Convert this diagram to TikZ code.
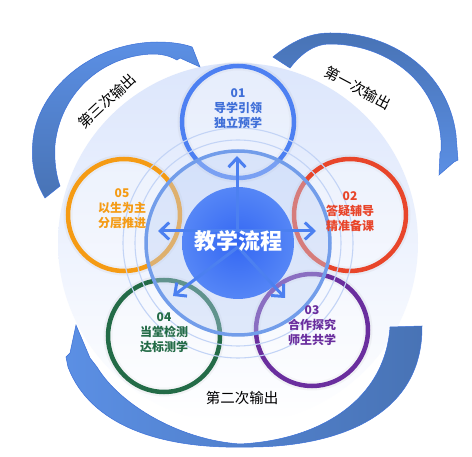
\documentclass[tikz,border=0pt]{standalone}
\usepackage{fontspec}
\setmainfont{Noto Sans CJK SC}
\usetikzlibrary{arrows.meta}
\definecolor{cA}{HTML}{4D80F2}
\definecolor{tA}{HTML}{3F6FD8}
\definecolor{cB}{HTML}{E8452A}
\definecolor{cC}{HTML}{6A2E9E}
\definecolor{cD}{HTML}{236B47}
\definecolor{cE}{HTML}{F59B14}
\definecolor{bgTop}{HTML}{DCE6FC}
\definecolor{bgMid}{HTML}{EEF3FE}
\definecolor{ringc}{HTML}{729DEA}
\definecolor{ringfill}{HTML}{BCD0F6}
\definecolor{thinc}{HTML}{C3D4F6}
\definecolor{arrowc}{HTML}{4C80F0}
\definecolor{ctrIn}{HTML}{3467F3}
\definecolor{ctrOut}{HTML}{5586F6}
\definecolor{bandDark}{HTML}{4873B5}
\definecolor{bandLight}{HTML}{5B8FE4}
\definecolor{bandEdge}{HTML}{3C70D8}
\begin{document}
\begin{tikzpicture}[x=1pt,y=-1pt,
  smallc/.style={circle,minimum size=112pt,inner sep=0pt,line width=4.5pt,
    fill=white,fill opacity=0.3,
    preaction={draw=gray,draw opacity=0.08,line width=9pt}},
  thinring/.style={draw=thinc,line width=1.1pt},
  conn/.style={draw=arrowc,line width=3pt,-{Straight Barb[length=9pt,width=17pt]}},
  lab/.style={align=center,font=\bfseries\fontsize{12}{15}\selectfont,inner sep=0pt},
  outlab/.style={font=\fontsize{14.5}{16}\selectfont,inner sep=0pt,text=black},
  band/.style={draw=bandEdge,line width=0.5pt}]
\useasboundingbox (0,0) rectangle (472,457);
\fill[white] (0,0) rectangle (472,457);
\coordinate (o) at (238,243);
% background disc
\shade[top color=bgTop,middle color=bgMid,bottom color=white] (o) circle[radius=180pt];
% outer curved arrows
\shade[band,top color=bandDark,bottom color=bandLight]
  (273,57) .. controls (292,41) and (310,33) .. (330,33)
  .. controls (390,32) and (448,70) .. (456,135) -- (458,160) -- (454,162) -- (439,175)
  -- (440,153) -- (441,151) -- (441,140)
  .. controls (437,80) and (385,44) .. (330,44)
  .. controls (313,44) and (300,55) .. (290,68) -- cycle;
\shade[band,bottom color=bandDark,top color=bandLight]
  (45,198) .. controls (33,178) and (31,160) .. (33,140)
  .. controls (38,90) and (90,43) .. (157,42)
  .. controls (172,42) and (184,44) .. (192,47) -- (193,49) -- (200,67) -- (180,58) -- (177,60)
  .. controls (168,55) and (160,54) .. (152,54)
  .. controls (100,56) and (60,95) .. (55,145)
  .. controls (54,160) and (56,175) .. (60,186) -- cycle;
\shade[band,left color=bandLight,middle color=bandLight!70!bandDark,right color=bandDark]
  (422,326) .. controls (423,420) and (330,448) .. (245,447)
  .. controls (160,449) and (90,425) .. (68,367) -- (66,357) -- (70,353) -- (76,325)
  -- (90,358) -- (97,367)
  .. controls (120,405) and (180,440) .. (240,444)
  .. controls (320,440) and (385,400) .. (390,327) -- cycle;
% small circles
\node[smallc,draw=cA] (c1) at (238,122) {};
\node[smallc,draw=cB] (c2) at (350,215) {};
\node[smallc,draw=cC] (c3) at (312,330) {};
\node[smallc,draw=cD] (c4) at (164,336) {};
\node[smallc,draw=cE] (c5) at (124,215) {};
% thin rings
\draw[thinring] (o) circle[radius=103pt];
\draw[thinring] (o) circle[radius=115pt];
% main ring
\node[circle,minimum size=184pt,inner sep=0pt,draw=ringc,line width=3.5pt,
  fill=ringfill,fill opacity=0.4] (ring) at (o) {};
% centre
\node[circle,minimum size=112pt,inner sep=0pt,inner color=ctrIn,outer color=ctrOut] (ctr) at (o) {};
% arrows
\coordinate (oh) at (237,231);
\coordinate (od) at (238,247);
\coordinate (t1) at (237,156);
\coordinate (t2) at (316,231);
\coordinate (t3) at (285,298);
\coordinate (t4) at (173,296);
\coordinate (t5) at (158,231);
\draw[conn] (oh) -- (t1);
\draw[conn] (oh) -- (t2);
\draw[conn] (oh) -- (t5);
\draw[conn] (od) -- (t3);
\draw[conn] (od) -- (t4);
\node[text=white,font=\bfseries\fontsize{22}{26}\selectfont,inner sep=0pt] (ctrtext) at (238,241) {教学流程};
% labels
\node[lab,text=tA] (l1) at (238,109) {01\\导学引领\\独立预学};
\node[lab,text=cB] (l2) at (350,212) {02\\答疑辅导\\精准备课};
\node[lab,text=cC] (l3) at (312,326) {03\\合作探究\\师生共学};
\node[lab,text=cD] (l4) at (164,333) {04\\当堂检测\\达标测学};
\node[lab,text=cE] (l5) at (122,209) {05\\以生为主\\分层推进};
% outer labels
\node[outlab,rotate=-28] (o1) at (358,88) {第一次输出};
\node[outlab,rotate=43] (o3) at (107,101) {第三次输出};
\node[outlab] (o2) at (242,398) {第二次输出};
\end{tikzpicture}
\end{document}
